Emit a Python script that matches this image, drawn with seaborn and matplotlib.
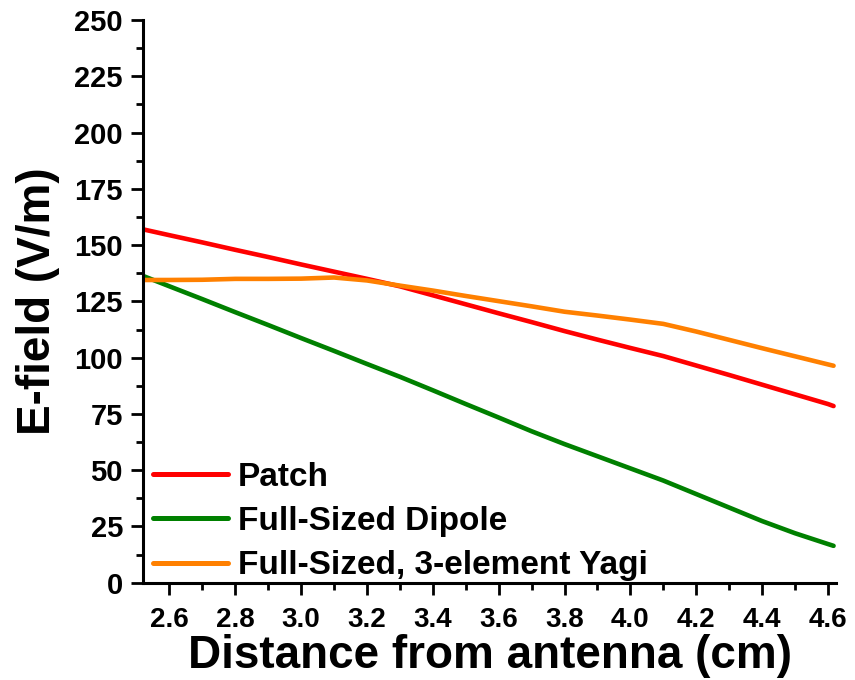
import numpy as np
import pandas as pd
import matplotlib
matplotlib.use("Agg")
import matplotlib.pyplot as plt
import seaborn as sns
from matplotlib.ticker import MultipleLocator, FormatStrFormatter

# Distance from antenna (cm)
distance = [2.52, 2.6, 2.7, 2.8, 2.9, 3.0, 3.1, 3.2, 3.3, 3.4, 3.5, 3.6, 3.7,
            3.8, 3.9, 4.0, 4.1, 4.2, 4.3, 4.4, 4.5, 4.6, 4.617]

# E-field (V/m) for each antenna
patch = [157.0, 154.4, 151.2, 147.9, 144.7, 141.4, 138.2, 135.0, 131.7, 127.7,
         123.7, 119.7, 115.8, 111.8, 108.0, 104.3, 100.7, 96.5, 92.3, 88.0,
         83.7, 79.4, 78.5]
dipole = [136.3, 131.7, 126.0, 120.2, 114.5, 108.7, 103.0, 97.2, 91.5, 85.5,
          79.4, 73.4, 67.3, 61.6, 56.2, 50.8, 45.4, 39.4, 33.4, 27.4, 22.0,
          17.2, 16.4]
yagi = [134.5, 134.5, 134.6, 135.0, 135.0, 135.1, 135.6, 134.3, 132.0, 129.8,
        127.4, 125.1, 122.8, 120.4, 118.7, 116.9, 115.0, 111.6, 107.9, 104.2,
        100.6, 97.0, 96.4]

labels = ["Patch", "Full-Sized Dipole", "Full-Sized, 3-element Yagi"]
colors = ["#ff0000", "#008000", "#ff8000"]

df = pd.concat([
    pd.DataFrame({"Distance": distance, "E": vals, "Antenna": name})
    for name, vals in zip(labels, [patch, dipole, yagi])
])

sns.set_theme(style="ticks")
plt.rcParams["font.family"] = ["Liberation Sans", "DejaVu Sans"]
plt.rcParams["font.weight"] = "bold"
plt.rcParams["text.color"] = "black"
plt.rcParams["axes.labelcolor"] = "black"

fig = plt.figure(figsize=(8.55, 6.8), dpi=100)
ax = fig.add_axes([0.1673, 0.143, 0.8107, 0.8276])

sns.lineplot(data=df, x="Distance", y="E", hue="Antenna", hue_order=labels,
             palette=colors, linewidth=3.3, ax=ax, sort=False)

ax.set_xlim(2.52, 4.625)
ax.set_ylim(0, 250)
ax.xaxis.set_major_locator(MultipleLocator(0.2))
ax.xaxis.set_minor_locator(MultipleLocator(0.1))
ax.yaxis.set_major_locator(MultipleLocator(25))
ax.yaxis.set_minor_locator(MultipleLocator(12.5))
ax.xaxis.set_major_formatter(FormatStrFormatter("%.1f"))

for side in ["top", "right"]:
    ax.spines[side].set_visible(False)
for side in ["left", "bottom"]:
    ax.spines[side].set_linewidth(2.2)
    ax.spines[side].set_color("black")

ax.tick_params(which="major", length=8.5, width=2, direction="out",
               colors="black")
ax.tick_params(which="minor", length=5, width=2, direction="out",
               colors="black")
ax.tick_params(axis="x", which="major", labelsize=20, pad=9)
ax.tick_params(axis="y", which="major", labelsize=21, pad=6)
for lab in ax.get_xticklabels() + ax.get_yticklabels():
    lab.set_fontweight("bold")

ax.set_xlabel("Distance from antenna (cm)", fontsize=33, fontweight="bold",
              labelpad=1)
ax.set_ylabel("E-field (V/m)", fontsize=33, fontweight="bold", labelpad=10)

leg = ax.legend(loc="lower left", frameon=False, fontsize=24,
                handlelength=2.25, handletextpad=0.3, labelspacing=0.4,
                borderpad=0.3, borderaxespad=0.0,
                bbox_to_anchor=(0.0, -0.015))
for line in leg.get_lines():
    line.set_linewidth(3.6)
for t in leg.get_texts():
    t.set_fontweight("bold")
    t.set_color("black")

fig.savefig("out.png", dpi=100, facecolor="white")
